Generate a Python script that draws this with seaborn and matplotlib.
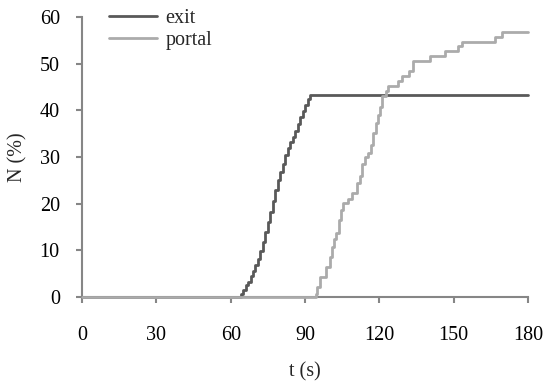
import matplotlib
matplotlib.use("Agg")
import matplotlib.pyplot as plt
import seaborn as sns
import pandas as pd

exit_t = [0, 64, 65, 66, 67, 68, 69, 70, 71, 72, 73, 74, 75, 76, 77, 78, 79, 80,
          81, 82, 83, 84, 85, 86, 87, 88, 89, 90, 91, 92, 180]
exit_n = [0, 0.7, 1.4, 2.5, 3.2, 4.6, 5.5, 6.8, 8.2, 9.9, 11.8, 13.9, 16.0, 18.2,
          20.5, 23.0, 25.0, 26.8, 28.6, 30.4, 32.0, 33.2, 34.3, 35.6, 37.1, 38.5,
          39.9, 41.2, 42.4, 43.2, 43.2]

portal_t = [0, 94.3, 94.8, 96, 98.5, 100, 100.7, 101.5, 102.5, 103.5, 104.5, 105.3,
            107.5, 108.8, 110.8, 112, 113, 114, 115.5, 116.5, 117.5, 118.5, 119.5,
            120.2, 121, 122.5, 123.6, 127.7, 129, 132, 133.4, 140.4, 146.5, 151.6,
            153.2, 166.7, 169.4, 180]
portal_n = [0, 0.7, 2.1, 4.2, 6.5, 8.5, 10.8, 12.4, 13.7, 16.5, 18.6, 20.1, 21.0,
            22.2, 24.4, 26.0, 28.5, 30.1, 30.8, 32.5, 35.1, 37.2, 39.0, 40.8, 43.1,
            44.2, 45.2, 46.3, 47.4, 48.4, 50.6, 51.6, 52.7, 53.8, 54.7, 55.8, 56.7,
            56.7]

x_ticks = [0, 30, 60, 90, 120, 150, 180]
y_ticks = [0, 10, 20, 30, 40, 50, 60]

sns.set_style("white")
plt.rcParams['font.family'] = ['Liberation Serif', 'DejaVu Serif']
FS = 14.5
plt.rcParams['font.size'] = FS

df = pd.concat([
    pd.DataFrame({"t": exit_t, "N": exit_n, "series": "exit"}),
    pd.DataFrame({"t": portal_t, "N": portal_n, "series": "portal"}),
])

fig = plt.figure(figsize=(5.45, 3.83), dpi=100)
ax = fig.add_axes([0.1505, 0.2245, 0.8185, 0.7311])

sns.lineplot(data=df, x="t", y="N", hue="series", palette={"exit": "#595959", "portal": "#ababab"},
             drawstyle="steps-post", linewidth=2, ax=ax, sort=False, estimator=None)
for ln in ax.get_lines():
    ln.set_clip_on(False)

ax.set_xlim(0, 180)
ax.set_ylim(0, 60)
ax.set_xticks(x_ticks)
ax.set_yticks(y_ticks)
for s in ["top", "right"]:
    ax.spines[s].set_visible(False)
for s in ["left", "bottom"]:
    ax.spines[s].set_color("#868686")
    ax.spines[s].set_linewidth(1.5)
    ax.spines[s].set_zorder(1)
ax.tick_params(axis="both", direction="out", length=4, width=1.5, color="#868686",
               labelsize=FS, labelcolor="black", bottom=True, left=True)
ax.tick_params(axis="x", pad=17)
ax.tick_params(axis="y", pad=12)
ax.set_xlabel("t (s)", fontsize=FS, labelpad=12.5)
ax.set_ylabel("N (%)", fontsize=FS, labelpad=9)

leg = ax.legend(loc="upper left", bbox_to_anchor=(0.02, 1.095), frameon=False,
                handlelength=2.4, handletextpad=0.4, labelspacing=0.15, fontsize=FS)

fig.savefig("out.png", dpi=100)
